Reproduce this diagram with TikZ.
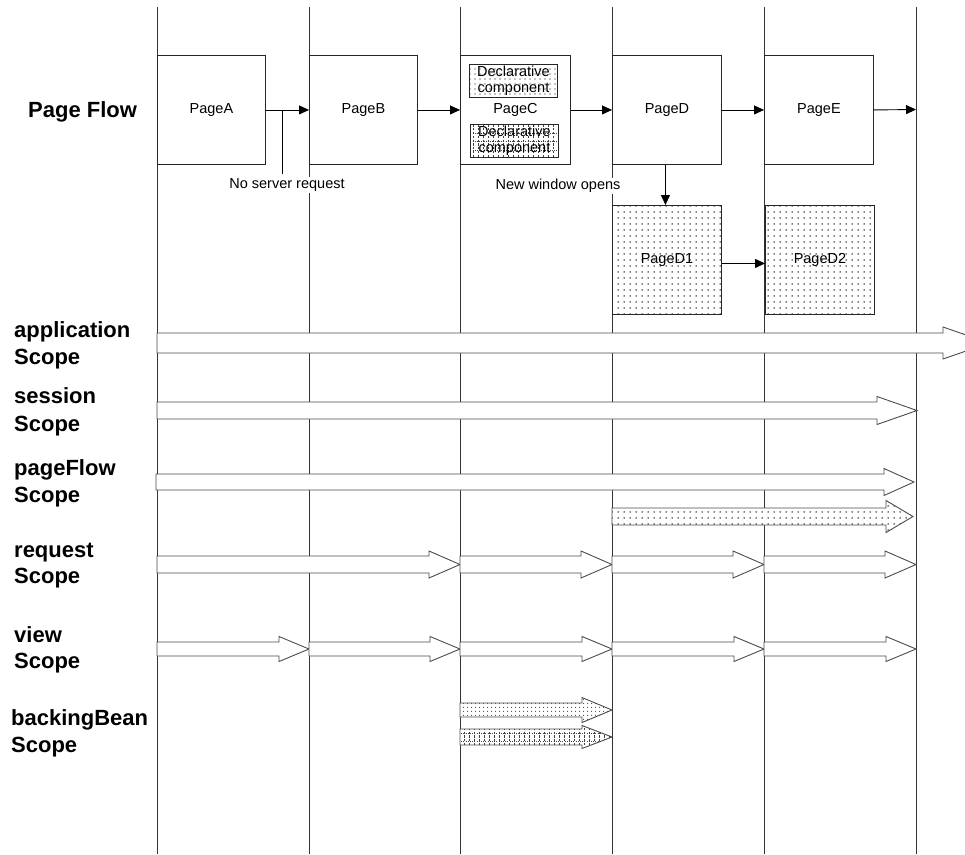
\documentclass[tikz,border=0pt]{standalone}
\usepackage{fontspec}
\setmainfont{Liberation Sans}
\usetikzlibrary{arrows.meta,patterns.meta}

\tikzset{
  lane/.style={line width=1pt, draw=black!80},
  pagebox/.style={draw=black!85, line width=0.9pt, minimum width=108pt, minimum height=109pt,
    inner sep=0pt, font=\fontsize{14.5}{16}\selectfont, anchor=north west},
  dotfill/.style={preaction={fill=white}, pattern={Dots[distance=6pt,radius=0.75pt]}, pattern color=black},
  conn/.style={line width=0.9pt, draw=black, -{Triangle[length=10pt,width=9pt]}},
  plainline/.style={line width=0.9pt, draw=black},
  note/.style={fill=white, inner sep=1.5pt, font=\fontsize{14.5}{16}\selectfont},
  lbl/.style={font=\bfseries\fontsize{22}{27}\selectfont, anchor=base west, inner sep=0pt},
  scopearrow/.style={draw=black!70, line width=0.9pt, fill=white, line join=miter},
  declbox/.style={draw=black!85, line width=0.9pt, minimum width=88pt, minimum height=33pt,
    inner sep=0pt, align=center, anchor=north west, font=\fontsize{14.5}{15.5}\selectfont},
  gridline/.style={black!75, line width=0.5pt},
}

\newcommand\fatarrow[7][]{% options, x1, tip x, y centre, body half, head half, head length
  \filldraw[scopearrow,#1] (#2,#4-#5) -- (#3-#7,#4-#5) -- (#3-#7,#4-#6) -- (#3,#4)
    -- (#3-#7,#4+#6) -- (#3-#7,#4+#5) -- (#2,#4+#5) -- cycle;}

\begin{document}
\begin{tikzpicture}[x=1pt,y=-1pt]
\useasboundingbox (0,0) rectangle (965,854);

% swim lanes
\foreach \lx in {157,309,460,612,764,916}
  \draw[lane] (\lx,7) -- (\lx,854);

% left labels
\node[lbl] (lpf) at (28,117) {Page Flow};
\node[lbl] (lapp1) at (14,337) {application};
\node[lbl] (lapp2) at (14,364) {Scope};
\node[lbl] (lses1) at (14,403) {session};
\node[lbl] (lses2) at (14,431) {Scope};
\node[lbl] (lpfs1) at (14,475) {pageFlow};
\node[lbl] (lpfs2) at (14,502) {Scope};
\node[lbl] (lreq1) at (14,557) {request};
\node[lbl] (lreq2) at (14,583) {Scope};
\node[lbl] (lview1) at (14,642) {view};
\node[lbl] (lview2) at (14,668) {Scope};
\node[lbl] (lbb1) at (11,725) {backingBean};
\node[lbl] (lbb2) at (11,752) {Scope};

% scope arrows
\begin{scope}
  \clip (0,0) rectangle (965,854);
  \fatarrow{157}{989}{343}{10}{16}{46}
\end{scope}
\fatarrow{157}{917}{410.5}{8.5}{14}{40}
\fatarrow{156}{914}{482}{8}{13.5}{30}
\fatarrow[dotfill]{612}{913}{516.5}{8.5}{16}{27}
\fatarrow{157}{460}{564.5}{8.5}{13.5}{31}
\fatarrow{460}{612}{564.5}{8.5}{13.5}{31}
\fatarrow{612}{764}{564.5}{8.5}{13.5}{31}
\fatarrow{764}{916}{564.5}{8.5}{13.5}{31}
\fatarrow{157}{309}{649}{7}{12.5}{30}
\fatarrow{309}{460}{649}{7}{12.5}{30}
\fatarrow{460}{612}{649}{7}{12.5}{30}
\fatarrow{612}{764}{649}{7}{12.5}{30}
\fatarrow{764}{916}{649}{7}{12.5}{30}
\fatarrow[dotfill, pattern={Dots[distance=4pt,radius=0.6pt]}]{460}{612}{710}{7}{12.5}{30}
% grid-patterned backingBean arrow
\begin{scope}
  \clip (460,729) -- (582,729) -- (582,725.5) -- (612,737) -- (582,748.5) -- (582,745) -- (460,745) -- cycle;
  \fill[white] (459,724) rectangle (613,750);
  \foreach \gx in {464,469,...,612}
    \draw[gridline, dash pattern=on 2.2pt off 1.6pt] (\gx,724) -- (\gx,750);
  \foreach \gy in {733,741}
    \draw[gridline, dash pattern=on 0.8pt off 1.4pt] (459,\gy) -- (613,\gy);
\end{scope}
\draw[scopearrow, fill=none] (460,729) -- (582,729) -- (582,725.5) -- (612,737) -- (582,748.5) -- (582,745) -- (460,745) -- cycle;

% page boxes
\node[pagebox] (pA) at (157,55) {PageA};
\node[pagebox] (pB) at (309,55) {PageB};
\node[pagebox, minimum width=110pt] (pC) at (460,55) {PageC};
\node[pagebox, minimum width=109pt] (pD) at (612,55) {PageD};
\node[pagebox, minimum width=109pt] (pE) at (764,55) {PageE};
\node[pagebox, minimum width=109pt, dotfill] (pD1) at (612,205) {PageD1};
\node[pagebox, minimum width=109pt, dotfill] (pD2) at (765,205) {PageD2};

% declarative components inside PageC
\node[declbox, dotfill, pattern={Dots[distance=5pt,radius=0.65pt]}] (dc1) at (469,64) {Declarative\\component};
\node[declbox, path picture={
    \foreach \k in {0,...,18}
      \draw[gridline, dash pattern=on 2.2pt off 1.6pt]
        ([xshift=\k*5pt+3pt]path picture bounding box.north west) --
        ([xshift=\k*5pt+3pt]path picture bounding box.south west);
    \foreach \k in {1,2,3}
      \draw[gridline, dash pattern=on 0.8pt off 1.4pt]
        ([yshift=-\k*8.5pt]path picture bounding box.north west) --
        ([yshift=-\k*8.5pt]path picture bounding box.north east);
  }] (dc2) at (470,124) {Declarative\\component};

% page flow connectors
\coordinate (nsr) at (282,174);
\coordinate (eend) at (916,109.5);
\draw[conn] (pA.east) -- (pB.west);
\draw[plainline] (nsr |- pA.east) -- (nsr);
\draw[conn] (pB.east) -- (pC.west);
\draw[conn] (pC.east) -- (pD.west);
\draw[conn] (pD.east) -- (pE.west);
\draw[conn] (pE.east) -- (eend);
\draw[conn] ([xshift=-1.5pt]pD.south) -- ([xshift=-1.5pt]pD1.north);
\draw[conn] ([yshift=-3.5pt]pD1.east) -- ([yshift=-3.5pt]pD2.west);

% notes
\node[note] (nsrlbl) at (287,185) {No server request};
\node[note] (nwo) at (558,186) {New window opens};
\end{tikzpicture}
\end{document}
